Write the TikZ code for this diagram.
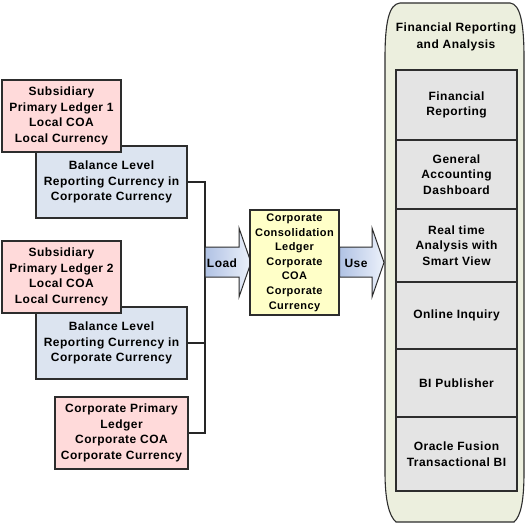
\documentclass[tikz,border=0pt]{standalone}
\usepackage{fontspec}
\setmainfont{Liberation Sans}[LetterSpace=4]
\definecolor{pinkc}{RGB}{255,218,218}
\definecolor{bluec}{RGB}{220,228,240}
\definecolor{yellowc}{RGB}{255,255,200}
\definecolor{contc}{RGB}{236,239,222}
\definecolor{grayc}{RGB}{228,228,228}
\definecolor{edgec}{RGB}{45,45,45}
\definecolor{arrowa}{RGB}{176,194,228}
\definecolor{arrowb}{RGB}{236,241,250}
\begin{document}
\begin{tikzpicture}[x=1bp,y=-1bp,
  box/.style={draw=edgec, line width=1.1bp, align=center, inner sep=0pt, text=black,
    font=\bfseries\fontsize{12bp}{15.7bp}\selectfont},
  pinkbox/.style={box, fill=pinkc, minimum width=119bp, minimum height=72bp},
  bluebox/.style={box, fill=bluec, minimum width=151bp, minimum height=72bp},
  yellowbox/.style={box, fill=yellowc, minimum width=89bp, minimum height=105bp,
    font=\bfseries\fontsize{11bp}{14.6bp}\selectfont},
  graybox/.style={box, fill=grayc, minimum width=121bp},
  conn/.style={draw=black!85, line width=1.1bp},
  arrowbody/.style={draw=edgec, line width=1bp, left color=arrowa, right color=arrowb},
  lbl/.style={inner sep=0pt, font=\bfseries\fontsize{12bp}{15.7bp}\selectfont}
]
\useasboundingbox (0,0) rectangle (527,525);
\fill[white] (0,0) rectangle (527,525);

% left ledgers
\node[bluebox] (blue1) at (111.5,182) {Balance Level\\Reporting Currency in\\Corporate Currency};
\node[pinkbox] (pink1) at (61.5,116) {Subsidiary\\Primary Ledger 1\\Local COA\\Local Currency};
\node[bluebox] (blue2) at (111.5,343) {Balance Level\\Reporting Currency in\\Corporate Currency};
\node[pinkbox] (pink2) at (61.5,277) {Subsidiary\\Primary Ledger 2\\Local COA\\Local Currency};
\node[pinkbox, minimum width=133bp] (corp) at (121.5,433) {Corporate Primary\\Ledger\\Corporate COA\\Corporate Currency};

% bus connector
\coordinate (bus) at (205,0);
\draw[conn] (blue1.east) -- (blue1.east -| bus) -- (corp.east -| bus) -- (corp.east);
\draw[conn] (blue2.east) -- (blue2.east -| bus);

% Load arrow
\path[arrowbody] (205,247) -- (239,247) -- (239,228) -- (251,262.5) -- (239,297) -- (239,277) -- (205,277) -- cycle;
\node[lbl] (load) at (222,263) {Load};

% consolidation ledger
\node[yellowbox] (cons) at (294.5,262.5) {Corporate\\Consolidation\\Ledger\\Corporate\\COA\\Corporate\\Currency};

% Use arrow
\path[arrowbody] (cons.east |- 0,247) -- (372,247) -- (372,228) -- (384,262.5) -- (372,297) -- (372,277) -- (cons.east |- 0,277) -- cycle;
\node[lbl] (use) at (356,263) {Use};

% container
\path[draw=edgec, line width=1.1bp, fill=contc]
  (400,3) -- (510,3) .. controls (520,4) and (524,22) .. (524,58)
  -- (524,472) .. controls (524,500) and (521,516) .. (514,522)
  -- (396,522) .. controls (389,516) and (385,500) .. (385,472)
  -- (385,58) .. controls (385,22) and (389,4) .. (400,3) -- cycle;
\node[lbl, align=center, font=\bfseries\fontsize{12bp}{16.5bp}\selectfont] (title) at (456,37) {Financial Reporting\\and Analysis};

\node[graybox, minimum height=70bp] (fr) at (456.5,105) {Financial\\Reporting};
\node[graybox, minimum height=69bp] (gad) at (456.5,174.5) {General\\Accounting\\Dashboard};
\node[graybox, minimum height=73bp] (rt) at (456.5,245.5) {Real time\\Analysis with\\Smart View};
\node[graybox, minimum height=67bp] (oi) at (456.5,315.5) {Online Inquiry};
\node[graybox, minimum height=68bp] (bip) at (456.5,383) {BI Publisher};
\node[graybox, minimum height=74bp] (of) at (456.5,454) {Oracle Fusion\\Transactional BI};
\end{tikzpicture}
\end{document}
